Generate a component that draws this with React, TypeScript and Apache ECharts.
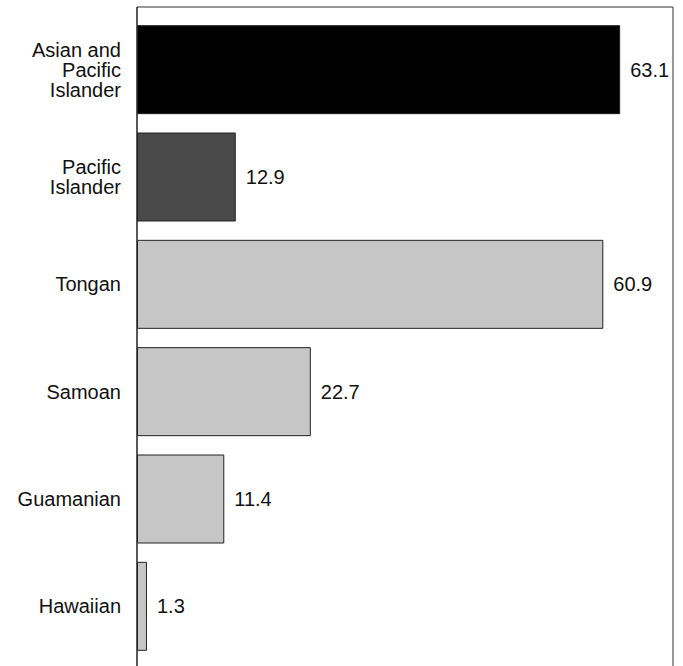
import React, { useEffect, useRef } from "react";
import * as echarts from "echarts";

const categories = [
  "Asian and\nPacific\nIslander",
  "Pacific\nIslander",
  "Tongan",
  "Samoan",
  "Guamanian",
  "Hawaiian",
];
const values = [63.1, 12.9, 60.9, 22.7, 11.4, 1.3];
const barColors = ["#000000", "#4a4a4a", "#c6c6c6", "#c6c6c6", "#c6c6c6", "#c6c6c6"];

export default function App() {
  const ref = useRef<HTMLDivElement>(null);
  useEffect(() => {
    document.body.style.margin = "0";
    const chart = echarts.init(ref.current!, null, { renderer: "svg" });
    chart.setOption({
      animation: false,
      backgroundColor: "#ffffff",
      grid: { left: 137, right: 10, top: 16, bottom: 6, containLabel: false },
      xAxis: {
        type: "value",
        min: 0,
        max: 70,
        show: false,
      },
      yAxis: {
        type: "category",
        data: categories,
        inverse: true,
        axisLine: { show: false },
        axisTick: { show: false },
        axisLabel: {
          margin: 16,
          color: "#111",
          fontSize: 20,
          lineHeight: 20,
          fontFamily: "Liberation Sans, Arial, sans-serif",
          align: "right",
        },
      },
      series: [
        {
          type: "bar",
          barWidth: 89,
          data: values.map((v, i) => ({
            value: v,
            itemStyle: {
              color: barColors[i],
              borderColor: "#222",
              borderWidth: 1,
            },
          })),
          label: {
            show: true,
            position: "right",
            distance: 10,
            color: "#111",
            fontSize: 20,
            fontFamily: "Liberation Sans, Arial, sans-serif",
            formatter: (p: any) => p.value.toFixed(1),
          },
        },
      ],
      graphic: [
        { type: "line", shape: { x1: 137, y1: 7, x2: 673, y2: 7 }, style: { stroke: "#333", lineWidth: 1 } },
        { type: "line", shape: { x1: 137, y1: 7, x2: 137, y2: 666 }, style: { stroke: "#222", lineWidth: 1.5 } },
        { type: "line", shape: { x1: 673, y1: 7, x2: 673, y2: 666 }, style: { stroke: "#333", lineWidth: 1 } },
      ],
    });
    return () => chart.dispose();
  }, []);
  return <div ref={ref} style={{ width: 683, height: 666 }} />;
}
